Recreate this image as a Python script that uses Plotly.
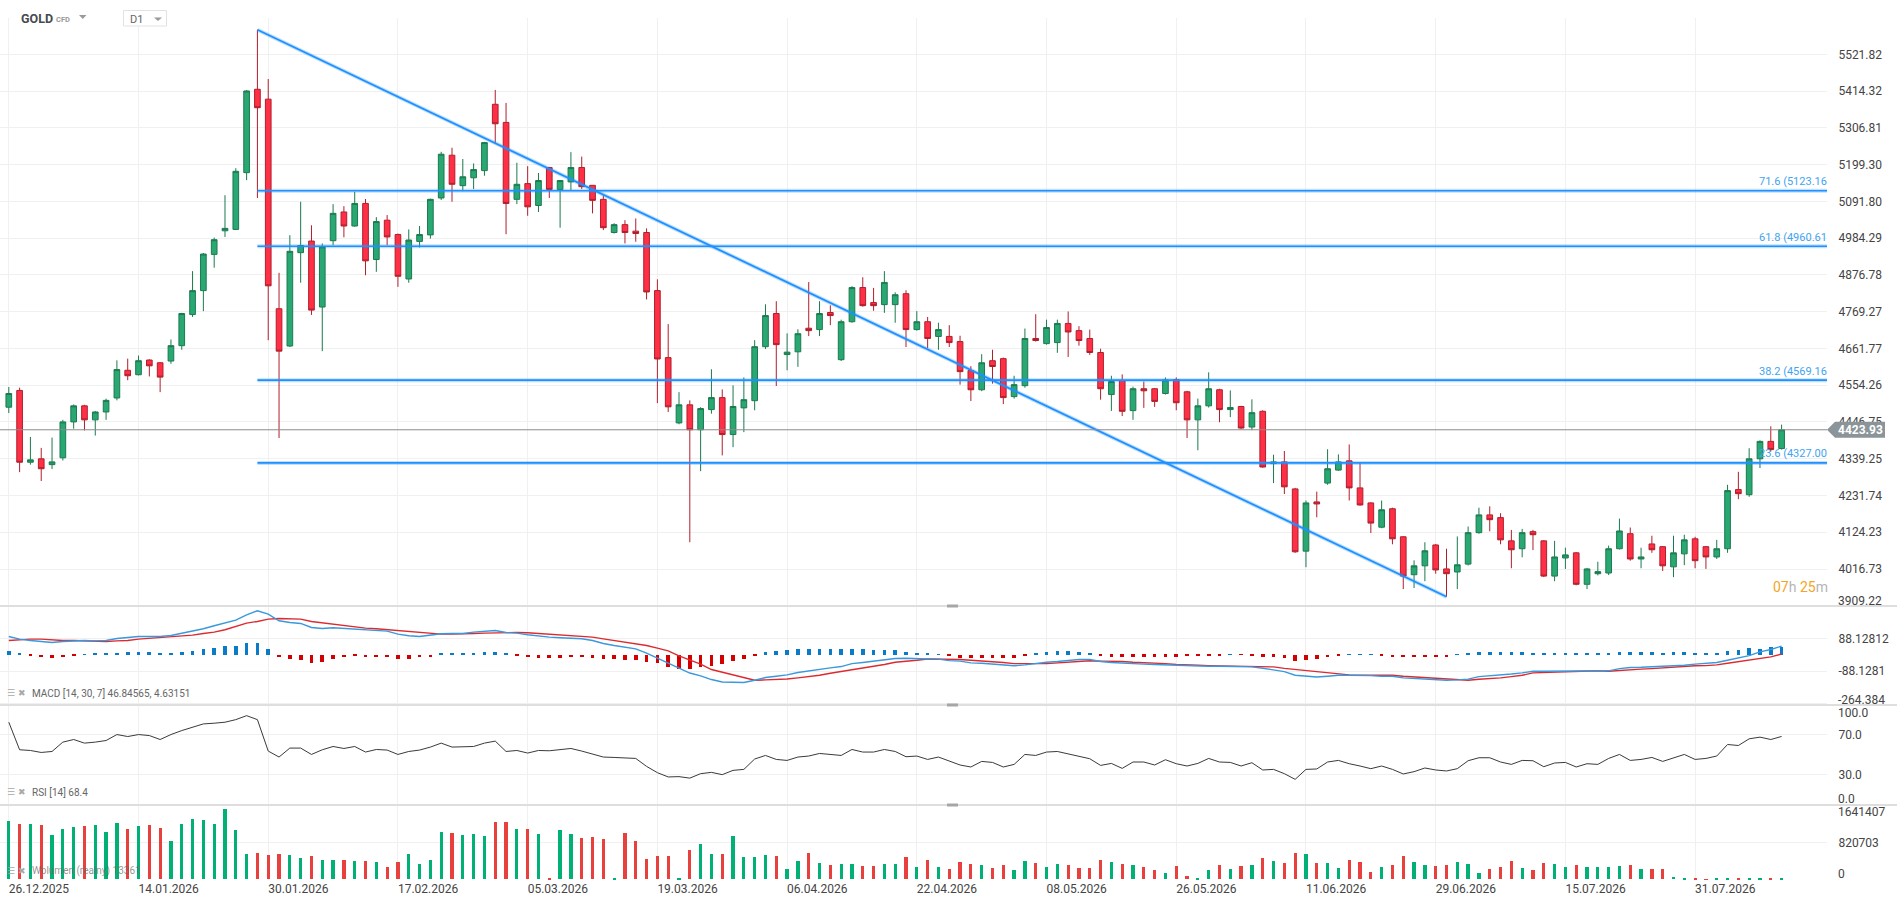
import plotly.graph_objects as go

# ---- data (daily candles, index = trading day) ----
tick_idx = [0, 12, 24, 36, 48, 60, 72, 84, 96, 108, 120, 132, 144, 156]
tick_labels = ["26.12.2025", "14.01.2026", "30.01.2026", "17.02.2026", "05.03.2026",
               "19.03.2026", "06.04.2026", "22.04.2026", "08.05.2026", "26.05.2026",
               "11.06.2026", "29.06.2026", "15.07.2026", "31.07.2026"]

open_ = [4490, 4539, 4329, 4339, 4322, 4342, 4447, 4494, 4453, 4476,
         4517, 4598, 4585, 4628, 4620, 4625, 4670, 4761, 4831, 4937,
         5006, 5010, 5176, 5420, 5391, 4778, 4669, 4942, 4976, 4783,
         4977, 5061, 5020, 5086, 4922, 5037, 4995, 4865, 4975, 4994,
         5102, 5227, 5138, 5161, 5182, 5376, 5323, 5098, 5144, 5080,
         5191, 5127, 5149, 5191, 5139, 5098, 5001, 5024, 5005, 5001,
         4831, 4635, 4444, 4497, 4424, 4483, 4518, 4410, 4488, 4509,
         4667, 4764, 4644, 4652, 4721, 4717, 4767, 4629, 4740, 4840,
         4796, 4790, 4790, 4822, 4717, 4740, 4697, 4697, 4682, 4597,
         4541, 4626, 4632, 4521, 4553, 4691, 4676, 4679, 4735, 4714,
         4691, 4650, 4527, 4568, 4480, 4544, 4544, 4530, 4571, 4535,
         4453, 4494, 4541, 4483, 4492, 4432, 4478, 4325, 4330, 4251,
         4069, 4213, 4268, 4306, 4333, 4254, 4210, 4139, 4193, 4111,
         4000, 4026, 4087, 4017, 4008, 4031, 4123, 4175, 4167, 4099,
         4076, 4126, 4099, 3996, 4049, 4064, 3972, 4003, 4005, 4076,
         4120, 4046, 4090, 4082, 4023, 4061, 4105, 4082, 4052, 4076,
         4249, 4234, 4339, 4390, 4369]

high = [4549, 4547, 4403, 4371, 4401, 4453, 4498, 4497, 4479, 4515,
        4627, 4632, 4641, 4630, 4622, 4688, 4766, 4888, 4941, 4986,
        5110, 5189, 5418, 5594.2, 5450, 4883, 4993, 5091, 5022, 4969,
        5084, 5078, 5120, 5099, 5046, 5052, 4998, 5010, 5020, 5100,
        5237, 5249, 5216, 5203, 5266, 5418, 5380, 5205, 5195, 5175,
        5193, 5154, 5236, 5223, 5139, 5110, 5028, 5037, 5042, 5013,
        4864, 4733, 4534, 4510, 4490, 4601, 4542, 4554, 4577, 4686,
        4791, 4800, 4706, 4718, 4856, 4800, 4788, 4746, 4844, 4870,
        4839, 4888, 4826, 4832, 4771, 4754, 4737, 4730, 4699, 4610,
        4645, 4658, 4635, 4582, 4720, 4762, 4746, 4746, 4770, 4727,
        4717, 4661, 4582, 4586, 4550, 4565, 4546, 4577, 4577, 4538,
        4515, 4592, 4544, 4539, 4494, 4513, 4481, 4351, 4362, 4254,
        4217, 4243, 4367, 4352, 4381, 4328, 4212, 4217, 4196, 4113,
        4042, 4095, 4090, 4076, 4112, 4141, 4196, 4200, 4180, 4131,
        4134, 4131, 4101, 4099, 4079, 4066, 4020, 4038, 4085, 4164,
        4138, 4079, 4114, 4084, 4114, 4117, 4111, 4084, 4102, 4263,
        4301, 4370, 4393, 4434, 4439]

low = [4473, 4300, 4322, 4274, 4309, 4334, 4427, 4422, 4407, 4453,
       4510, 4569, 4583, 4580, 4534, 4617, 4658, 4754, 4771, 4898,
       4988, 5008, 5154, 5102, 4686, 4400, 4666, 4854, 4760, 4654,
       4964, 4987, 5018, 4876, 4886, 4964, 4842, 4854, 4957, 4983,
       5096, 5091, 5122, 5128, 5167, 5262, 4996, 5084, 5050, 5061,
       5102, 5015, 5123, 5128, 5057, 5008, 4998, 4969, 4974, 4805,
       4502, 4476, 4440, 4095, 4303, 4471, 4349, 4373, 4417, 4481,
       4660, 4552, 4598, 4608, 4698, 4698, 4730, 4625, 4737, 4784,
       4772, 4766, 4737, 4666, 4714, 4663, 4658, 4666, 4556, 4508,
       4537, 4559, 4499, 4515, 4547, 4682, 4673, 4649, 4637, 4670,
       4643, 4512, 4479, 4464, 4453, 4488, 4491, 4527, 4481, 4400,
       4364, 4489, 4446, 4461, 4426, 4423, 4313, 4268, 4236, 4064,
       4022, 4168, 4263, 4304, 4217, 4202, 4122, 4136, 4089, 3958,
       3961, 3981, 4003, 3935.6, 3958, 4027, 4120, 4127, 4089, 4019,
       4051, 4072, 3993, 3981, 4017, 3969, 3958, 3998, 3999, 4074,
       4041, 4019, 4064, 4011, 3993, 4028, 4019, 4017, 4046, 4064,
       4221, 4228, 4312, 4360, 4366]

close = [4530, 4329, 4336, 4310, 4330, 4447, 4494, 4453, 4476, 4510,
         4600, 4582, 4626, 4611, 4578, 4670, 4764, 4831, 4938, 4980,
         5013, 5180, 5415, 5366, 4845, 4654, 4946, 4963, 4774, 4959,
         5057, 5020, 5086, 4918, 5033, 4988, 4873, 4979, 4995, 5098,
         5230, 5142, 5164, 5185, 5264, 5319, 5086, 5142, 5076, 5153,
         5127, 5153, 5191, 5135, 5095, 5015, 5024, 5001, 4998, 4827,
         4631, 4491, 4497, 4424, 4486, 4518, 4410, 4492, 4512, 4667,
         4758, 4673, 4651, 4705, 4714, 4764, 4758, 4740, 4840, 4787,
         4787, 4855, 4819, 4717, 4740, 4691, 4717, 4679, 4594, 4541,
         4620, 4609, 4518, 4556, 4691, 4685, 4723, 4735, 4710, 4685,
         4650, 4544, 4565, 4478, 4544, 4538, 4507, 4570, 4503, 4453,
         4494, 4544, 4483, 4489, 4429, 4474, 4315, 4330, 4257, 4067,
         4210, 4207, 4310, 4330, 4254, 4204, 4151, 4190, 4105, 3996,
         4026, 4070, 4014, 4003, 4029, 4123, 4175, 4161, 4102, 4073,
         4123, 4117, 3996, 4052, 4058, 3972, 4017, 4009, 4076, 4128,
         4046, 4052, 4073, 4026, 4064, 4102, 4041, 4052, 4076, 4246,
         4237, 4339, 4390, 4366, 4423.93]

volume = [1294000, 1227400, 1227400, 1205200, 983400, 1116500, 1160900, 1183000, 1205200, 1050000,
          1249600, 1116500, 1183000, 1205200, 1138700, 850300, 1227400, 1338300, 1316100, 1227400,
          1560100, 1094300, 561900, 584100, 539800, 561900, 539800, 473200, 517600, 428900,
          428900, 428900, 406700, 406700, 384500, 273600, 384500, 561900, 340100, 428900,
          1050000, 1027800, 983400, 1005600, 961200, 1271800, 1271800, 1116500, 1116500, 1005600,
          29600, 1094300, 1005600, 916900, 939000, 894700, 29600, 1027800, 850300, 451000,
          517600, 517600, 7400, 650700, 783800, 561900, 561900, 961200, 495400, 495400,
          539800, 517600, 229200, 406700, 584100, 362300, 317900, 340100, 340100, 295800,
          295800, 340100, 340100, 495400, 273600, 428900, 273600, 229200, 384500, 340100,
          317900, 251400, 317900, 207000, 406700, 362300, 273600, 340100, 317900, 251400,
          251400, 428900, 384500, 340100, 317900, 273600, 207000, 140500, 295800, 73900,
          14800, 207000, 317900, 229200, 295800, 317900, 473200, 406700, 362300, 584100,
          561900, 362300, 362300, 251400, 428900, 384500, 162700, 273600, 317900, 517600,
          384500, 317900, 295800, 317900, 384500, 340100, 140500, 229200, 273600, 406700,
          251400, 207000, 362300, 340100, 273600, 317900, 273600, 273600, 273600, 295800,
          317900, 229200, 229200, 229200, 51800, 29600, 7400, 3000, 7400, 29600,
          29600, 29600, 7400, 7400, 13361]

macd = [98.9, 84.5, 77.3, 71.9, 66.5, 71.9, 75.5, 77.3, 75.5, 77.3,
        88.1, 93.5, 98.9, 98.9, 98.9, 104.3, 116.9, 125.9, 140.3, 156.5,
        170.9, 187.1, 215.8, 237.4, 219.4, 183.5, 174.5, 169.1, 147.5, 142.1,
        145.7, 142.1, 140.3, 134.9, 131.3, 127.7, 111.5, 102.5, 98.9, 107.9,
        113.3, 115.1, 115.1, 122.3, 127.7, 131.3, 120.5, 116.9, 107.9, 100.7,
        95.3, 91.7, 88.1, 86.3, 77.3, 61.2, 50.4, 39.6, 32.4, 9.0,
        -18.0, -45.0, -74, -98, -113, -133, -146, -147, -149, -137,
        -122, -115, -108, -95, -86, -77, -70, -63, -47, -41,
        -34, -25, -20, -18, -18, -22, -23, -31, -34, -43,
        -45, -49, -54, -59, -54, -45, -40, -36, -29, -25,
        -25, -36, -41, -45, -49, -50, -52, -54, -58, -61,
        -61, -61, -61, -61, -61, -65, -72, -79, -90, -110,
        -113, -119, -115, -110, -110, -110, -112, -115, -115, -124,
        -128, -133, -135, -137, -135, -131, -117, -113, -110, -103,
        -97, -88, -88, -88, -88, -88, -88, -88, -86, -74,
        -68, -67, -65, -63, -61, -56, -50, -47, -41, -29,
        -18, -4, 16, 29, 46.85]

macd_signal = [77.3, 82.7, 84.5, 84.5, 79.1, 77.3, 77.3, 75.5, 71.9, 71.9,
               75.5, 77.3, 84.5, 88.1, 91.7, 95.3, 100.7, 106.1, 115.1, 122.3,
               134.9, 152.9, 170.9, 179.9, 192.5, 196.0, 196.0, 192.5, 179.9, 172.7,
               161.9, 154.7, 149.3, 143.9, 140.3, 134.9, 129.5, 124.1, 118.7, 113.3,
               111.5, 111.5, 111.5, 115.1, 116.9, 118.7, 120.5, 120.5, 118.7, 115.1,
               111.5, 106.1, 102.5, 98.9, 95.3, 86.3, 77.3, 71.9, 61.2, 50.4,
               36.0, 21.6, -5, -27, -50, -79, -94, -106, -122, -137,
               -135, -133, -130, -124, -119, -110, -99, -90, -77, -68,
               -59, -52, -40, -36, -29, -22, -22, -23, -25, -29,
               -32, -36, -41, -47, -49, -47, -47, -43, -40, -36,
               -32, -34, -34, -36, -40, -41, -45, -47, -52, -56,
               -56, -58, -59, -59, -61, -61, -63, -65, -73, -79,
               -85, -92, -99, -104, -108, -110, -110, -110, -110, -115,
               -119, -122, -124, -128, -133, -137, -131, -128, -124, -117,
               -110, -97, -95, -94, -92, -88, -88, -86, -88, -83,
               -79, -77, -74, -70, -67, -61, -59, -58, -54, -45,
               -36, -29, -20, -11, 4.63]

macd_hist = [21.6, 10.8, -2, -12.6, -16.2, -10.8, -1, 1, 5.4, 5.4,
             10.8, 16.2, 16.2, 16.2, 10.8, 10.8, 16.2, 21.6, 32.4, 37.8,
             45.0, 48.6, 64.7, 64.7, 32.4, -10.8, -21.6, -27.0, -43.2, -37.8,
             -21.6, -10.8, -5.4, -10.8, -10.8, -10.8, -21.6, -21.6, -10.8, -10.8,
             5.4, 5.4, 10.8, 10.8, 16.2, 16.2, 5.4, -5.4, -12.6, -16.2,
             -16.2, -16.2, -12.6, -12.6, -16.2, -21.6, -21.6, -27.0, -27.0, -37.8,
             -43.2, -64.7, -75.5, -76, -67, -59.4, -46.8, -32.4, -23.4, -3,
             16.2, 21.6, 27.0, 30.6, 30.6, 30.6, 30.6, 30.6, 30.6, 30.6,
             25.2, 25.2, 25.2, 16.2, 10.8, 5.4, 1, -1, -14.4, -18,
             -14.4, -14.4, -18, -14.4, -2, 7.2, 16.2, 19.8, 19.8, 16.2,
             12.6, -2, -9, -9, -9, -9, -9, -9, -9, -7,
             -7, -2, -1, 0.5, -0.5, -1, -9, -9, -17, -33,
             -29, -23, -11, -2, 4, 4, 1, -1, -11, -11,
             -11, -11, -11, -11, 2, 9, 18, 18, 18, 18,
             18, 12.6, 9, 9, 9, 9, 9, 9, 9, 16,
             16, 16, 16, 12.6, 16, 16, 9, 9, 9, 21.6,
             27, 36, 30.6, 39.6, 42.2]

rsi = [82.7, 55.0, 54.3, 52.3, 53.3, 62.7, 65.3, 61.7, 62.7, 64.3,
       70.3, 68.3, 70.3, 69.3, 65.3, 70.3, 74.3, 77.7, 81.0, 81.7,
       82.7, 85.3, 89.3, 85.3, 53.7, 47.7, 56.7, 56.7, 50.3, 55.0,
       58.3, 56.3, 58.3, 52.7, 55.3, 54.7, 50.3, 53.3, 54.7, 57.7,
       61.7, 57.7, 58.3, 58.3, 61.7, 63.7, 53.3, 54.3, 51.7, 54.3,
       54.0, 55.0, 56.3, 53.7, 51.0, 47.7, 47.3, 46.7, 46.3, 38.3,
       32.0, 27.7, 28, 26.5, 31, 32.3, 30.0, 34.3, 35.3, 45.7,
       49.3, 45.3, 44.3, 47.7, 48.7, 51.3, 50.3, 49.3, 55.3, 52.7,
       52.7, 55.3, 53.3, 48.0, 48.7, 45.3, 47.7, 44.0, 39.7, 37.7,
       43.3, 42.3, 37.7, 40.3, 50.3, 49.3, 52.7, 53.3, 51.0, 49.0,
       46.0, 39.3, 41.3, 36.3, 42.7, 42.7, 39.7, 45.0, 41.0, 38.7,
       41.3, 46.3, 42.7, 42.3, 38.7, 42.0, 34.7, 35.3, 31, 25.3,
       35.3, 35.7, 42.7, 44.3, 41.0, 38.7, 36.0, 38.7, 35.3, 30.7,
       33.0, 36.7, 34.7, 33.7, 36.0, 44.0, 47.0, 47.0, 42.7, 40.3,
       44.3, 44.0, 38.0, 41.7, 42.3, 37.7, 41.0, 40.3, 46.3, 50.3,
       44.3, 45.3, 47.3, 43.3, 46.7, 50.3, 45.3, 46.3, 48.7, 60.3,
       59.3, 66.0, 67.7, 65.3, 68.4]

# drawing objects
fib_names = ["23.6", "38.2", "61.8", "71.6"]
fib_levels = [4327.00, 4569.16, 4960.61, 5123.16]
fib_start = 23
trend_start = (23, 5594.2)
trend_end = (133, 3935.6)
last_price = 4423.93

price_ticks = ["5521.82", "5414.32", "5306.81", "5199.30", "5091.80", "4984.29",
               "4876.78", "4769.27", "4661.77", "4554.26", "4446.75", "4339.25",
               "4231.74", "4124.23", "4016.73", "3909.22"]
macd_ticks = ["264.3844", "88.12812", "-88.1281", "-264.384"]
rsi_ticks = ["100.0", "70.0", "30.0", "0.0"]
vol_ticks = ["1641407", "820703", "0"]

# ---- styling ----
GREEN, GREEN_LINE = "#29a874", "#1b7a4e"
RED, RED_LINE = "#ff3046", "#b01e2c"
VOL_GREEN, VOL_RED = "#00b074", "#e8403d"
BLUE = "#1e90ff"
GRID = "#f0f0f0"
SEP = "#dedede"
TXT = "#444444"
FONT = "Roboto"

PLOT_R = 1827   # px, right edge of plot area
PLOT_B = 880    # px, bottom edge of plot area


def px(x):
    return x / PLOT_R


def py(y):
    return (PLOT_B - y) / PLOT_B


x = list(range(len(close)))
up = [c >= o for o, c in zip(open_, close)]

fig = go.Figure()

fig.add_trace(go.Candlestick(
    x=x, open=open_, high=high, low=low, close=close,
    increasing=dict(fillcolor=GREEN, line=dict(color=GREEN_LINE, width=1)),
    decreasing=dict(fillcolor=RED, line=dict(color=RED_LINE, width=1)),
    whiskerwidth=0, hoverinfo="skip", xaxis="x", yaxis="y",
))

fig.add_trace(go.Bar(
    x=x, y=macd_hist, width=0.34,
    marker=dict(color=["#0a7bc8" if v >= 0 else "#d40000" for v in macd_hist], line_width=0),
    xaxis="x2", yaxis="y2", hoverinfo="skip",
))
fig.add_trace(go.Scatter(x=x, y=macd_signal, mode="lines",
                         line=dict(color="#dd2a2f", width=1.4),
                         xaxis="x2", yaxis="y2", hoverinfo="skip"))
fig.add_trace(go.Scatter(x=x, y=macd, mode="lines",
                         line=dict(color="#3a98dc", width=1.4),
                         xaxis="x2", yaxis="y2", hoverinfo="skip"))

fig.add_trace(go.Scatter(x=x, y=rsi, mode="lines",
                         line=dict(color="#3a3a3a", width=1),
                         xaxis="x3", yaxis="y3", hoverinfo="skip"))

fig.add_trace(go.Bar(
    x=x, y=volume, width=0.3,
    marker=dict(color=[VOL_GREEN if u else VOL_RED for u in up], line_width=0),
    xaxis="x4", yaxis="y4", hoverinfo="skip",
))

x_range = [-0.814, 168.2]
xcommon = dict(range=x_range, tickvals=tick_idx, showgrid=True, gridcolor=GRID,
               gridwidth=1, zeroline=False, showline=False, ticks="", fixedrange=True)
ycommon = dict(side="right", showgrid=True, gridcolor=GRID, zeroline=False,
               showline=False, ticks="outside", ticklen=8, tickcolor="rgba(0,0,0,0)",
               tickfont=dict(family=FONT, size=12, color=TXT), fixedrange=True)


def blank_edges(labels, edges):
    return ["" if i in edges else t for i, t in enumerate(labels)]


fig.update_layout(
    width=1897, height=906,
    margin=dict(l=0, r=1897 - PLOT_R, t=0, b=906 - PLOT_B),
    paper_bgcolor="white", plot_bgcolor="white",
    showlegend=False, bargap=0, boxgap=0.25,
    font=dict(family=FONT, color=TXT),
    xaxis=dict(xcommon, anchor="y", showticklabels=False, rangeslider=dict(visible=False)),
    xaxis2=dict(xcommon, anchor="y2", showticklabels=False),
    xaxis3=dict(xcommon, anchor="y3", showticklabels=False),
    xaxis4=dict(xcommon, anchor="y4", showticklabels=True, ticktext=tick_labels,
                ticklabelposition="outside right",
                tickfont=dict(family=FONT, size=12, color=TXT)),
    yaxis=dict(ycommon, anchor="x", domain=[py(606), py(18)], range=[3908.5, 5628.4],
               tickvals=[float(t) for t in price_ticks],
               ticktext=blank_edges(price_ticks, {len(price_ticks) - 1})),
    yaxis2=dict(ycommon, anchor="x2", domain=[py(705), py(606)], range=[-270, 263],
                tickvals=[float(t) for t in macd_ticks],
                ticktext=blank_edges(macd_ticks, {0, 3})),
    yaxis3=dict(ycommon, anchor="x3", domain=[py(805), py(705)], range=[-0.5, 100],
                tickvals=[float(t) for t in rsi_ticks],
                ticktext=blank_edges(rsi_ticks, {0, 3})),
    yaxis4=dict(ycommon, anchor="x4", domain=[0, py(805)], range=[-15500, 1648000],
                tickvals=[float(t) for t in vol_ticks],
                ticktext=blank_edges(vol_ticks, {0, 2})),
)

shapes = []
ann = []

# fib retracement levels
for name, lvl in zip(fib_names, fib_levels):
    shapes.append(dict(type="line", xref="x", yref="y", x0=fib_start, x1=x_range[1],
                       y0=lvl, y1=lvl, line=dict(color="rgba(30,144,255,0.28)", width=4),
                       layer="above"))
    shapes.append(dict(type="line", xref="x", yref="y", x0=fib_start, x1=x_range[1],
                       y0=lvl, y1=lvl, line=dict(color=BLUE, width=1.6), layer="above"))
    ann.append(dict(xref="paper", yref="y", x=px(1829), y=lvl, yshift=9,
                    xanchor="right", yanchor="middle", showarrow=False,
                    text=f"{name} ({lvl:.2f}",
                    font=dict(family=FONT, size=11, color="#3fa4f0")))

# trend line
shapes.append(dict(type="line", xref="x", yref="y",
                   x0=trend_start[0], y0=trend_start[1], x1=trend_end[0], y1=trend_end[1],
                   line=dict(color="rgba(30,144,255,0.28)", width=4), layer="above"))
shapes.append(dict(type="line", xref="x", yref="y",
                   x0=trend_start[0], y0=trend_start[1], x1=trend_end[0], y1=trend_end[1],
                   line=dict(color=BLUE, width=1.8), layer="above"))

# current price line + tag
shapes.append(dict(type="line", xref="paper", yref="y", x0=0, x1=1,
                   y0=last_price, y1=last_price, line=dict(color="#8c8c8c", width=1),
                   layer="above"))
half = 8 * 2.925
shapes.append(dict(type="path", xref="paper", yref="y", layer="above",
                   path=f"M {px(1827)} {last_price} L {px(1835)} {last_price + half} "
                        f"L {px(1885)} {last_price + half} L {px(1885)} {last_price - half} "
                        f"L {px(1835)} {last_price - half} Z",
                   fillcolor="#8a9499", line=dict(width=0)))
ann.append(dict(xref="paper", yref="y", x=px(1860), y=last_price, showarrow=False,
                text=f"<b>{last_price:.2f}</b>", xanchor="center", yanchor="middle",
                font=dict(family=FONT, size=12, color="white")))

# panel separators and drag handles
for ysep in (606, 705, 805):
    shapes.append(dict(type="line", xref="paper", yref="paper", x0=0, x1=px(1897),
                       y0=py(ysep), y1=py(ysep), line=dict(color=SEP, width=2),
                       layer="above"))
    shapes.append(dict(type="line", xref="paper", yref="paper", x0=px(947), x1=px(958),
                       y0=py(ysep), y1=py(ysep), line=dict(color="#a6a6a6", width=3),
                       layer="above"))

# edge axis labels, nudged inside their panels
edge_labels = [
    ("y", float(price_ticks[-1]), price_ticks[-1], 5),
    ("y2", float(macd_ticks[0]), macd_ticks[0], -7),
    ("y2", float(macd_ticks[-1]), macd_ticks[-1], 4),
    ("y3", float(rsi_ticks[0]), rsi_ticks[0], -8),
    ("y3", float(rsi_ticks[-1]), rsi_ticks[-1], 6),
    ("y4", float(vol_ticks[0]), vol_ticks[0], -7),
    ("y4", float(vol_ticks[-1]), vol_ticks[-1], 5),
]
for yref, yv, txt, shift in edge_labels:
    ann.append(dict(xref="paper", yref=yref, x=px(1836), y=yv, yshift=shift,
                    xanchor="left", yanchor="middle", showarrow=False, text=txt,
                    font=dict(family=FONT, size=12, color=TXT)))

# indicator captions
captions = [
    (693, "MACD [14, 30, 7] 46.84565, 4.63151", "#666666"),
    (792, "RSI [14] 68.4", "#666666"),
    (871, "Wolumen (realny) 13361", "rgba(102,102,102,0.7)"),
]
for ycap, txt, col in captions:
    ann.append(dict(xref="paper", yref="paper", x=px(5), y=py(ycap), xanchor="left",
                    yanchor="middle", showarrow=False, text="☰ ✖",
                    font=dict(family="DejaVu Sans", size=9, color="#a8a8a8")))
    ann.append(dict(xref="paper", yref="paper", x=px(30), y=py(ycap), xanchor="left",
                    yanchor="middle", showarrow=False, text=txt,
                    font=dict(family=FONT, size=10, color=col)))

# countdown to candle close
ann.append(dict(xref="paper", yref="paper", x=px(1830), y=py(587), xanchor="right",
                yanchor="middle", showarrow=False,
                text='<span style="color:#f5a524">07</span><span style="color:#b5b5b5">h </span>'
                     '<span style="color:#f5a524">25</span><span style="color:#b5b5b5">m</span>',
                font=dict(family=FONT, size=14)))

# header: instrument + timeframe
ann.append(dict(xref="paper", yref="paper", x=px(19), y=py(18), xanchor="left",
                yanchor="middle", showarrow=False, text="<b>GOLD</b>",
                font=dict(family=FONT, size=12.5, color="#454a4f")))
ann.append(dict(xref="paper", yref="paper", x=px(54), y=py(19.5), xanchor="left",
                yanchor="middle", showarrow=False, text="<b>CFD</b>",
                font=dict(family=FONT, size=7.5, color="#9a9a9a")))
shapes.append(dict(type="path", xref="paper", yref="paper", layer="above",
                   path=f"M {px(79)} {py(15)} L {px(86.5)} {py(15)} L {px(82.75)} {py(19)} Z",
                   fillcolor="#9a9a9a", line=dict(width=0)))
shapes.append(dict(type="rect", xref="paper", yref="paper", layer="above",
                   x0=px(123.5), x1=px(166.5), y0=py(26), y1=py(10.5),
                   fillcolor="white", line=dict(color="#e2e2e2", width=1)))
ann.append(dict(xref="paper", yref="paper", x=px(128), y=py(19), xanchor="left",
                yanchor="middle", showarrow=False, text="D1",
                font=dict(family=FONT, size=11, color="#666666")))
shapes.append(dict(type="path", xref="paper", yref="paper", layer="above",
                   path=f"M {px(154)} {py(17.5)} L {px(162)} {py(17.5)} L {px(158)} {py(21)} Z",
                   fillcolor="#9a9a9a", line=dict(width=0)))

fig.update_layout(shapes=shapes, annotations=ann)

# the page's default body margin would push the chart off the 1897x906 window
fig.write_html("out.html", config={"displayModeBar": False},
               post_script="document.body.style.margin='0px';")
